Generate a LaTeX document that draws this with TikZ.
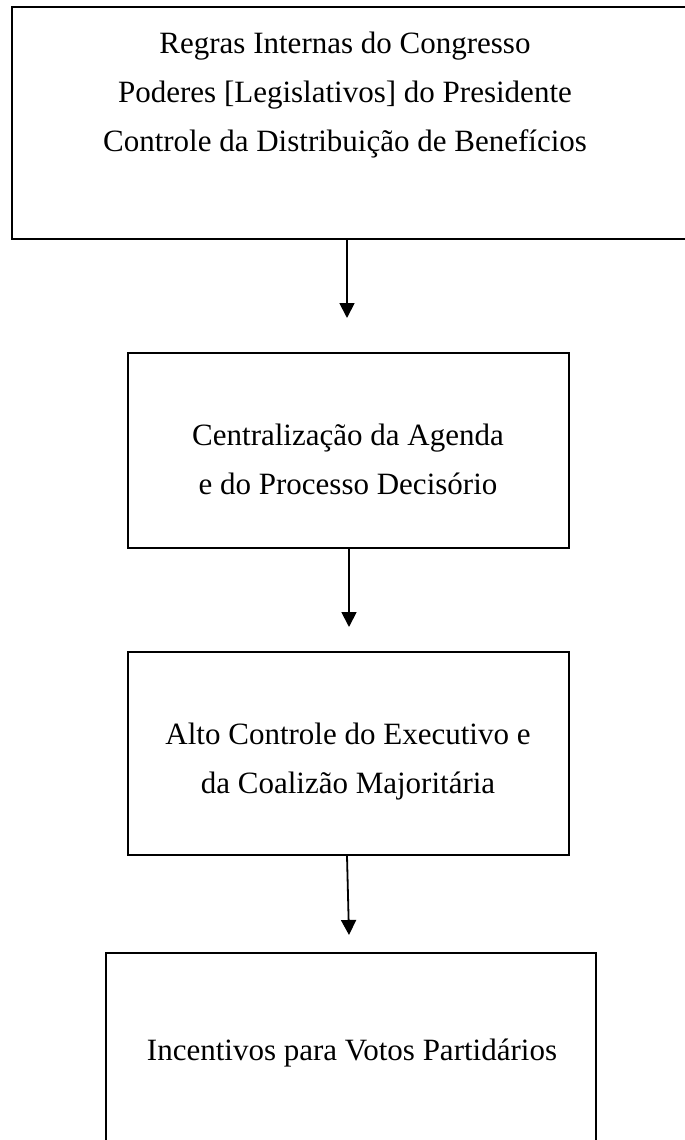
\documentclass[tikz,border=0pt]{standalone}
\usepackage{fontspec}
\setmainfont{Liberation Serif}
\usetikzlibrary{arrows.meta}
\begin{document}
\begin{tikzpicture}[x=1pt,y=-1pt,
  box/.style={draw, line width=1.8pt, inner sep=0pt},
  lbl/.style={font=\fontsize{31}{37}\selectfont, inner sep=0pt, anchor=base},
  conn/.style={line width=1.8pt, -{Triangle[width=15pt,length=15pt]}}]
\clip (0,0) rectangle (685,1140);
% boxes
\node[box, minimum width=708pt, minimum height=232pt] (b1) at (366,123) {};
\node[box, minimum width=441pt, minimum height=195pt] (b2) at (348.5,450.5) {};
\node[box, minimum width=441pt, minimum height=203pt] (b3) at (348.5,753.5) {};
\node[box, minimum width=490pt, minimum height=240pt] (b4) at (351,1073) {};
% texts
\node[lbl] (t1a) at (345,53) {Regras Internas do Congresso};
\node[lbl] (t1b) at (345,102) {Poderes [Legislativos] do Presidente};
\node[lbl] (t1c) at (345,151) {Controle da Distribuição de Benefícios};
\node[lbl] (t2a) at (348,445) {Centralização da Agenda};
\node[lbl] (t2b) at (348,494) {e do Processo Decisório};
\node[lbl] (t3a) at (348,744) {Alto Controle do Executivo e};
\node[lbl] (t3b) at (348,793) {da Coalizão Majoritária};
\node[lbl] (t4a) at (352,1060) {Incentivos para Votos Partidários};
% connectors
\coordinate (e1) at (347,318);
\coordinate (e2) at (349,627);
\coordinate (e3) at (349,935);
\coordinate (s3) at (347,0);
\draw[conn] (b1.south -| e1) -- (e1);
\draw[conn] (b2.south -| e2) -- (e2);
\draw[conn] (b3.south -| s3) -- (e3);
\end{tikzpicture}
\end{document}
